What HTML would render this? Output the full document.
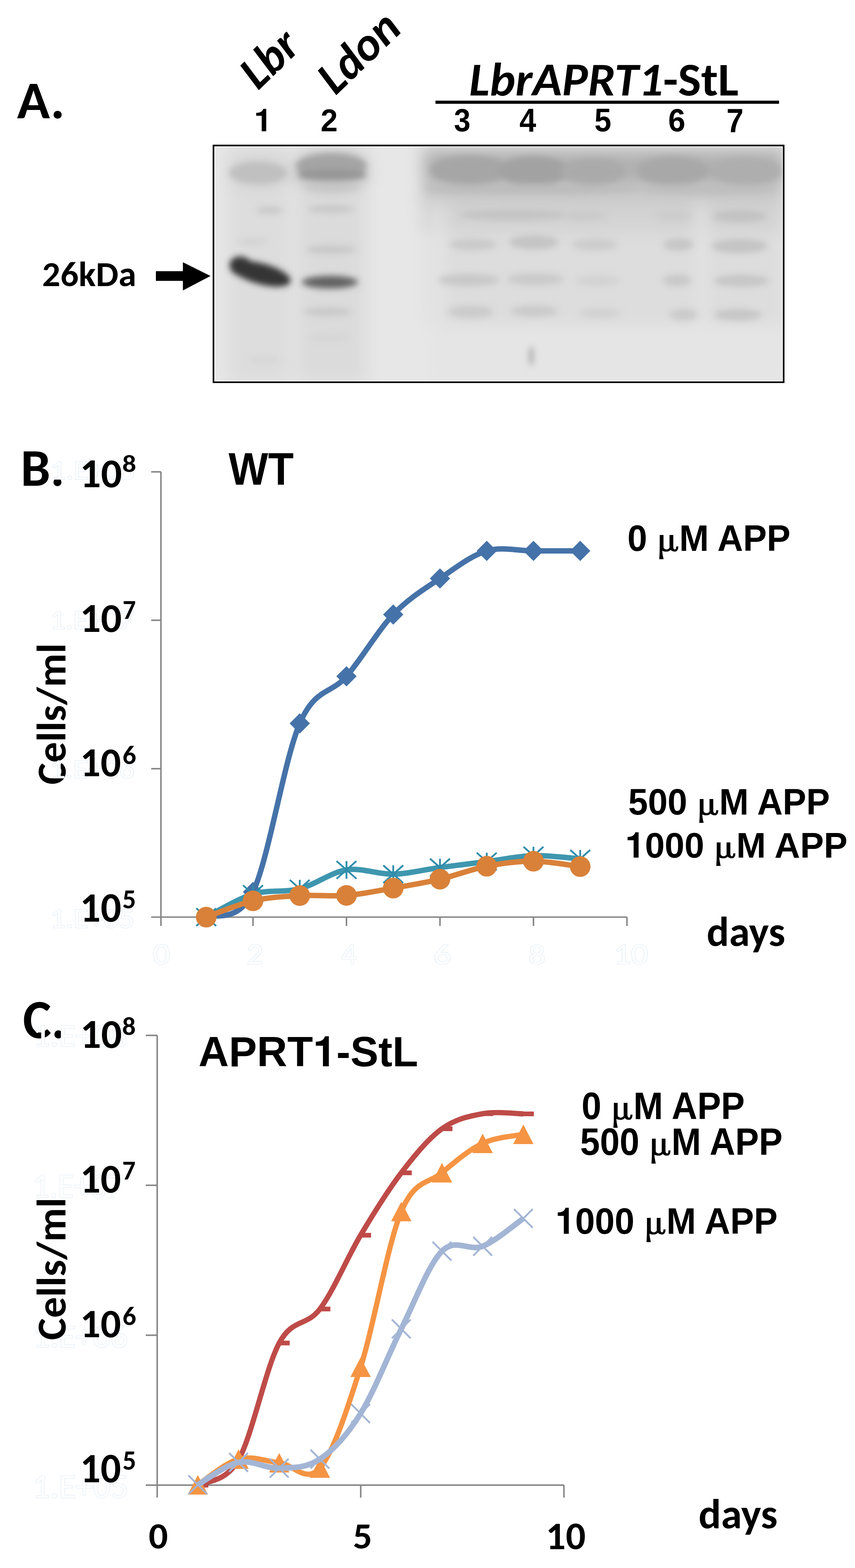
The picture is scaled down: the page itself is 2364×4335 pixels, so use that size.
<!DOCTYPE html>
<html><head><meta charset="utf-8"><title>Figure</title>
<style>html,body{margin:0;padding:0;background:#fff;}svg{display:block;}</style>
</head><body>
<svg width="2364" height="4335" viewBox="0 0 2364 4335">
<defs><filter id="bl" x="-20%" y="-20%" width="140%" height="140%"><feGaussianBlur stdDeviation="8.5"/></filter><filter id="bh" x="-20%" y="-20%" width="140%" height="140%"><feGaussianBlur stdDeviation="22"/></filter><clipPath id="bc"><rect x="594.5" y="406.5" width="1568.0" height="646.0"/></clipPath></defs>
<rect x="588" y="400" width="1581" height="659" fill="#000"/>
<rect x="592.5" y="404.5" width="1572.0" height="650.0" fill="#fff"/>
<g clip-path="url(#bc)">
<rect x="588" y="400" width="1581" height="659" fill="#e7e7e7"/>
<g filter="url(#bh)">
<rect x="628" y="400" width="177" height="660" fill="#dddddd"/>
<rect x="822" y="400" width="193" height="660" fill="#dbdbdb"/>
<rect x="1165" y="400" width="1005" height="160" fill="#c8c8c8"/>
<rect x="1175" y="425" width="995" height="80" fill="#b0b0b0"/>
<rect x="1165" y="560" width="1005" height="80" fill="#d3d3d3"/>
<rect x="1180" y="640" width="990" height="260" fill="#dddddd"/>
<rect x="1930" y="560" width="20" height="500" fill="#e6e6e6"/>
<rect x="1200" y="560" width="25" height="500" fill="#e6e6e6"/>
<rect x="1190" y="900" width="980" height="160" fill="#e5e5e5"/>
<ellipse cx="716" cy="480" rx="90" ry="45" fill="#d4d4d4"/>
<ellipse cx="916" cy="475" rx="105" ry="50" fill="#c0c0c0"/>
</g><g filter="url(#bl)">
<ellipse cx="714" cy="478" rx="80" ry="31" fill="#c0c0c0"/>
<ellipse cx="916" cy="458" rx="98" ry="34" fill="#a4a4a4"/>
<ellipse cx="918" cy="484" rx="96" ry="16" fill="#969696"/>
<ellipse cx="1300" cy="470" rx="110" ry="40" fill="#a6a6a6"/>
<ellipse cx="1475" cy="472" rx="100" ry="40" fill="#a2a2a2"/>
<ellipse cx="1640" cy="474" rx="90" ry="36" fill="#aaaaaa"/>
<ellipse cx="1860" cy="472" rx="100" ry="40" fill="#a8a8a8"/>
<ellipse cx="2060" cy="474" rx="100" ry="38" fill="#aeaeae"/>
<ellipse cx="918" cy="516" rx="75" ry="12" fill="#c6c6c6"/>
<ellipse cx="1470" cy="522" rx="300" ry="14" fill="#bcbcbc"/>
<ellipse cx="1960" cy="522" rx="190" ry="14" fill="#bebebe"/>
<ellipse cx="745" cy="581" rx="38" ry="10" fill="#c8c8c8"/>
<ellipse cx="915" cy="578" rx="65" ry="10" fill="#c6c6c6"/>
<ellipse cx="1420" cy="594" rx="150" ry="16" fill="#c4c4c4"/>
<ellipse cx="1615" cy="596" rx="60" ry="15" fill="#cacaca"/>
<ellipse cx="1860" cy="596" rx="50" ry="15" fill="#cccccc"/>
<ellipse cx="2045" cy="598" rx="75" ry="17" fill="#c2c2c2"/>
<ellipse cx="915" cy="690" rx="70" ry="12" fill="#c8c8c8"/>
<ellipse cx="700" cy="668" rx="40" ry="8" fill="#d0d0d0"/>
<ellipse cx="1308" cy="676" rx="65" ry="17" fill="#cacaca"/>
<ellipse cx="1476" cy="670" rx="68" ry="20" fill="#c4c4c4"/>
<ellipse cx="1645" cy="676" rx="62" ry="17" fill="#cccccc"/>
<ellipse cx="1876" cy="676" rx="42" ry="17" fill="#c6c6c6"/>
<ellipse cx="2045" cy="680" rx="78" ry="20" fill="#c4c4c4"/>
<ellipse cx="1296" cy="774" rx="85" ry="17" fill="#c8c8c8"/>
<ellipse cx="1480" cy="772" rx="78" ry="17" fill="#cacaca"/>
<ellipse cx="1652" cy="776" rx="62" ry="15" fill="#d2d2d2"/>
<ellipse cx="1872" cy="775" rx="40" ry="16" fill="#c8c8c8"/>
<ellipse cx="2050" cy="776" rx="76" ry="17" fill="#c6c6c6"/>
<ellipse cx="905" cy="862" rx="68" ry="10" fill="#c6c6c6"/>
<ellipse cx="1302" cy="862" rx="62" ry="17" fill="#cacaca"/>
<ellipse cx="1477" cy="860" rx="66" ry="16" fill="#cacaca"/>
<ellipse cx="1660" cy="866" rx="58" ry="15" fill="#d2d2d2"/>
<ellipse cx="1890" cy="870" rx="38" ry="16" fill="#cacaca"/>
<ellipse cx="2040" cy="870" rx="66" ry="16" fill="#c6c6c6"/>
<ellipse cx="912" cy="780" rx="78" ry="18" fill="#6a6a6a"/>
<ellipse cx="912" cy="781" rx="60" ry="10" fill="#606060"/>
<ellipse cx="722" cy="757" rx="84" ry="29" fill="#363636" transform="rotate(15 722 757)"/>
<ellipse cx="668" cy="737" rx="34" ry="27" fill="#363636" transform="rotate(20 668 737)"/>
<ellipse cx="912" cy="935" rx="60" ry="8" fill="#d4d4d4"/>
<ellipse cx="730" cy="995" rx="45" ry="8" fill="#d4d4d4"/>
<ellipse cx="1469" cy="985" rx="4" ry="28" fill="#909090"/>
</g></g>
<path d="M431,749.8 H505.7 V725 L582,763 L505.7,803 V776.5 H431z" fill="#000"/>
<rect x="1204" y="278.3" width="950" height="8.6" fill="#000"/>
<text x="0" y="0" font-size="145.85" textLength="120.71" lengthAdjust="spacingAndGlyphs" transform="translate(56.89,1342.50) scale(1.0072,1)"><tspan style='font-family:"Carlito", "Liberation Sans", sans-serif;font-weight:bold;font-style:normal'>B.</tspan></text>
<text x="0" y="0" font-size="151.08" textLength="120.32" lengthAdjust="spacingAndGlyphs" transform="translate(63.33,2870.20) scale(0.9818,1)"><tspan style='font-family:"Carlito", "Liberation Sans", sans-serif;font-weight:bold;font-style:normal'>C.</tspan></text>
<text x="0" y="0" font-size="113.86" textLength="388.47" lengthAdjust="spacingAndGlyphs" transform="translate(181.00,2169.29) rotate(-90) scale(1.0062,1)"><tspan style='font-family:"Carlito", "Liberation Sans", sans-serif;font-weight:bold;font-style:normal'>Cells</tspan><tspan style='font-family:"Carlito", "Liberation Sans", sans-serif;font-weight:bold;font-style:normal'>/</tspan><tspan style='font-family:"Carlito", "Liberation Sans", sans-serif;font-weight:bold;font-style:normal'>ml</tspan></text>
<text x="0" y="0" font-size="74.49" textLength="205.55" lengthAdjust="spacingAndGlyphs" transform="translate(139.20,1325.40) scale(1.1336,1)" fill="#fff" stroke="#dce8f4" stroke-width="2.2" paint-order="stroke"><tspan style='font-family:"Carlito", "Liberation Sans", sans-serif;font-weight:normal;font-style:normal'>1.E+08</tspan></text>
<text x="0" y="0" font-size="76.92" textLength="212.26" lengthAdjust="spacingAndGlyphs" transform="translate(138.43,1739.00) scale(1.0932,1)" fill="#fff" stroke="#dce8f4" stroke-width="2.2" paint-order="stroke"><tspan style='font-family:"Carlito", "Liberation Sans", sans-serif;font-weight:normal;font-style:normal'>1.E+07</tspan></text>
<text x="0" y="0" font-size="73.24" textLength="202.08" lengthAdjust="spacingAndGlyphs" transform="translate(137.75,2151.40) scale(1.1609,1)" fill="#fff" stroke="#dce8f4" stroke-width="2.2" paint-order="stroke"><tspan style='font-family:"Carlito", "Liberation Sans", sans-serif;font-weight:normal;font-style:normal'>1.E+06</tspan></text>
<text x="0" y="0" font-size="78.92" textLength="217.78" lengthAdjust="spacingAndGlyphs" transform="translate(138.38,2564.80) scale(1.0729,1)" fill="#fff" stroke="#dce8f4" stroke-width="2.2" paint-order="stroke"><tspan style='font-family:"Carlito", "Liberation Sans", sans-serif;font-weight:normal;font-style:normal'>1.E+05</tspan></text>
<text x="0" y="0" font-size="87.68" textLength="241.95" lengthAdjust="spacingAndGlyphs" transform="translate(90.43,2893.00) scale(1.0859,1)" fill="#fff" stroke="#dce8f4" stroke-width="2.2" paint-order="stroke"><tspan style='font-family:"Carlito", "Liberation Sans", sans-serif;font-weight:normal;font-style:normal'>1.E+08</tspan></text>
<text x="0" y="0" font-size="96.92" textLength="267.45" lengthAdjust="spacingAndGlyphs" transform="translate(90.16,3311.00) scale(0.9442,1)" fill="#fff" stroke="#dce8f4" stroke-width="2.2" paint-order="stroke"><tspan style='font-family:"Carlito", "Liberation Sans", sans-serif;font-weight:normal;font-style:normal'>1.E+07</tspan></text>
<text x="0" y="0" font-size="90.15" textLength="248.75" lengthAdjust="spacingAndGlyphs" transform="translate(89.78,3725.30) scale(1.0629,1)" fill="#fff" stroke="#dce8f4" stroke-width="2.2" paint-order="stroke"><tspan style='font-family:"Carlito", "Liberation Sans", sans-serif;font-weight:normal;font-style:normal'>1.E+06</tspan></text>
<text x="0" y="0" font-size="94.15" textLength="259.81" lengthAdjust="spacingAndGlyphs" transform="translate(89.76,4141.00) scale(1.0198,1)" fill="#fff" stroke="#dce8f4" stroke-width="2.2" paint-order="stroke"><tspan style='font-family:"Carlito", "Liberation Sans", sans-serif;font-weight:normal;font-style:normal'>1.E+05</tspan></text>
<text x="0" y="0" font-size="81.54" textLength="41.33" lengthAdjust="spacingAndGlyphs" transform="translate(422.13,2665.00) scale(1.1719,1)" fill="#fff" stroke="#dce8f4" stroke-width="2.2" paint-order="stroke"><tspan style='font-family:"Carlito", "Liberation Sans", sans-serif;font-weight:normal;font-style:normal'>0</tspan></text>
<text x="0" y="0" font-size="81.54" textLength="41.33" lengthAdjust="spacingAndGlyphs" transform="translate(681.37,2665.00) scale(1.1367,1)" fill="#fff" stroke="#dce8f4" stroke-width="2.2" paint-order="stroke"><tspan style='font-family:"Carlito", "Liberation Sans", sans-serif;font-weight:normal;font-style:normal'>2</tspan></text>
<text x="0" y="0" font-size="81.54" textLength="41.33" lengthAdjust="spacingAndGlyphs" transform="translate(943.30,2665.00) scale(1.0438,1)" fill="#fff" stroke="#dce8f4" stroke-width="2.2" paint-order="stroke"><tspan style='font-family:"Carlito", "Liberation Sans", sans-serif;font-weight:normal;font-style:normal'>4</tspan></text>
<text x="0" y="0" font-size="77.94" textLength="39.51" lengthAdjust="spacingAndGlyphs" transform="translate(1198.00,2665.00) scale(1.2830,1)" fill="#fff" stroke="#dce8f4" stroke-width="2.2" paint-order="stroke"><tspan style='font-family:"Carlito", "Liberation Sans", sans-serif;font-weight:normal;font-style:normal'>6</tspan></text>
<text x="0" y="0" font-size="76.81" textLength="38.93" lengthAdjust="spacingAndGlyphs" transform="translate(1461.28,2665.00) scale(1.2111,1)" fill="#fff" stroke="#dce8f4" stroke-width="2.2" paint-order="stroke"><tspan style='font-family:"Carlito", "Liberation Sans", sans-serif;font-weight:normal;font-style:normal'>8</tspan></text>
<text x="0" y="0" font-size="81.54" textLength="82.66" lengthAdjust="spacingAndGlyphs" transform="translate(1696.50,2665.00) scale(1.1583,1)" fill="#fff" stroke="#dce8f4" stroke-width="2.2" paint-order="stroke"><tspan style='font-family:"Carlito", "Liberation Sans", sans-serif;font-weight:normal;font-style:normal'>10</tspan></text>
<text x="0" y="0" font-size="113.86" textLength="388.47" lengthAdjust="spacingAndGlyphs" transform="translate(181.00,3704.91) rotate(-90) scale(1.0144,1)"><tspan style='font-family:"Carlito", "Liberation Sans", sans-serif;font-weight:bold;font-style:normal'>Cells</tspan><tspan style='font-family:"Carlito", "Liberation Sans", sans-serif;font-weight:bold;font-style:normal'>/</tspan><tspan style='font-family:"Carlito", "Liberation Sans", sans-serif;font-weight:bold;font-style:normal'>ml</tspan></text>
<g stroke="#868686" stroke-width="4.2" fill="none" stroke-linecap="butt">
<path d="M445,1304.5 V2535.5"/>
<path d="M418,2535.5 H1733.6"/>
<path d="M418,1304.5 H445"/>
<path d="M418,1714.8 H445"/>
<path d="M418,2125.2 H445"/>
<path d="M445.0,2535.5 V2560"/>
<path d="M699.5,2535.5 V2560"/>
<path d="M958.0,2535.5 V2560"/>
<path d="M1216.5,2535.5 V2560"/>
<path d="M1475.0,2535.5 V2560"/>
<path d="M1733.5,2535.5 V2560"/>
</g>
<path d="M570.2,2535.5 C591.8,2523.9 656.4,2555.2 699.5,2466.0 C742.6,2376.8 785.7,2099.4 828.8,2000.0 C871.8,1900.6 914.9,1920.0 958.0,1869.8 C1001.1,1819.6 1044.2,1744.0 1087.2,1698.9 C1130.3,1653.8 1173.4,1628.6 1216.5,1599.3 C1259.6,1570.0 1302.7,1535.8 1345.8,1523.1 C1388.8,1510.4 1431.9,1523.1 1475.0,1523.1 C1518.1,1523.1 1582.7,1523.1 1604.2,1523.1" fill="none" stroke="#4572a8" stroke-width="15" stroke-linejoin="round"/>
<path d="M570.2,2507.5 l28,28 l-28,28 l-28,-28z" fill="#4572a8"/>
<path d="M699.5,2438.0 l28,28 l-28,28 l-28,-28z" fill="#4572a8"/>
<path d="M828.8,1972.0 l28,28 l-28,28 l-28,-28z" fill="#4572a8"/>
<path d="M958.0,1841.8 l28,28 l-28,28 l-28,-28z" fill="#4572a8"/>
<path d="M1087.2,1670.9 l28,28 l-28,28 l-28,-28z" fill="#4572a8"/>
<path d="M1216.5,1571.3 l28,28 l-28,28 l-28,-28z" fill="#4572a8"/>
<path d="M1345.8,1495.1 l28,28 l-28,28 l-28,-28z" fill="#4572a8"/>
<path d="M1475.0,1495.1 l28,28 l-28,28 l-28,-28z" fill="#4572a8"/>
<path d="M1604.2,1495.1 l28,28 l-28,28 l-28,-28z" fill="#4572a8"/>
<path d="M570.2,2535.5 C591.8,2524.9 656.4,2485.1 699.5,2472.0 C742.6,2458.9 785.7,2468.2 828.8,2457.0 C871.8,2445.8 914.9,2411.7 958.0,2405.0 C1001.1,2398.3 1044.2,2417.9 1087.2,2416.8 C1130.3,2415.7 1173.4,2404.2 1216.5,2398.4 C1259.6,2392.6 1302.7,2387.5 1345.8,2382.0 C1388.8,2376.5 1431.9,2366.9 1475.0,2365.6 C1518.1,2364.3 1582.7,2372.9 1604.2,2374.3" fill="none" stroke="#3e96ae" stroke-width="15" stroke-linejoin="round"/>
<path d="M542.8,2511.0 l55,49 M542.8,2560.0 l55,-49 M570.2,2511.0 v49" stroke="#2f8dab" stroke-width="5" fill="none"/>
<path d="M672.0,2447.5 l55,49 M672.0,2496.5 l55,-49 M699.5,2447.5 v49" stroke="#2f8dab" stroke-width="5" fill="none"/>
<path d="M801.2,2432.5 l55,49 M801.2,2481.5 l55,-49 M828.8,2432.5 v49" stroke="#2f8dab" stroke-width="5" fill="none"/>
<path d="M930.5,2380.5 l55,49 M930.5,2429.5 l55,-49 M958.0,2380.5 v49" stroke="#2f8dab" stroke-width="5" fill="none"/>
<path d="M1059.8,2392.3 l55,49 M1059.8,2441.3 l55,-49 M1087.2,2392.3 v49" stroke="#2f8dab" stroke-width="5" fill="none"/>
<path d="M1189.0,2373.9 l55,49 M1189.0,2422.9 l55,-49 M1216.5,2373.9 v49" stroke="#2f8dab" stroke-width="5" fill="none"/>
<path d="M1318.2,2357.5 l55,49 M1318.2,2406.5 l55,-49 M1345.8,2357.5 v49" stroke="#2f8dab" stroke-width="5" fill="none"/>
<path d="M1447.5,2341.1 l55,49 M1447.5,2390.1 l55,-49 M1475.0,2341.1 v49" stroke="#2f8dab" stroke-width="5" fill="none"/>
<path d="M1576.8,2349.8 l55,49 M1576.8,2398.8 l55,-49 M1604.2,2349.8 v49" stroke="#2f8dab" stroke-width="5" fill="none"/>
<path d="M570.2,2535.6 C591.8,2528.1 656.4,2500.4 699.5,2490.5 C742.6,2480.6 785.7,2478.5 828.8,2476.0 C871.8,2473.5 914.9,2478.9 958.0,2475.5 C1001.1,2472.1 1044.2,2462.8 1087.2,2455.3 C1130.3,2447.8 1173.4,2440.8 1216.5,2430.7 C1259.6,2420.6 1302.7,2403.1 1345.8,2394.8 C1388.8,2386.5 1431.9,2380.8 1475.0,2381.0 C1518.1,2381.2 1582.7,2393.3 1604.2,2395.8" fill="none" stroke="#d98139" stroke-width="15" stroke-linejoin="round"/>
<circle cx="570.2" cy="2535.6" r="28.5" fill="#d98139"/>
<circle cx="699.5" cy="2490.5" r="28.5" fill="#d98139"/>
<circle cx="828.8" cy="2476.0" r="28.5" fill="#d98139"/>
<circle cx="958.0" cy="2475.5" r="28.5" fill="#d98139"/>
<circle cx="1087.2" cy="2455.3" r="28.5" fill="#d98139"/>
<circle cx="1216.5" cy="2430.7" r="28.5" fill="#d98139"/>
<circle cx="1345.8" cy="2394.8" r="28.5" fill="#d98139"/>
<circle cx="1475.0" cy="2381.0" r="28.5" fill="#d98139"/>
<circle cx="1604.2" cy="2395.8" r="28.5" fill="#d98139"/>
<g stroke="#868686" stroke-width="4.2" fill="none">
<path d="M434.6,2862.5 V4105.8"/>
<path d="M403,4105.8 H1559.2"/>
<path d="M403,2862.5 H434.6"/>
<path d="M403,3276.9 H434.6"/>
<path d="M403,3691.4 H434.6"/>
<path d="M434.6,4105.8 V4140.4"/>
<path d="M997.4,4105.8 V4140.4"/>
<path d="M1559.2,4105.8 V4140.4"/>
</g>
<path d="M547.0,4106.0 C565.8,4094.3 622.0,4101.5 659.5,4036.0 C697.0,3970.5 734.5,3782.5 772.0,3713.0 C809.5,3643.5 847.0,3668.7 884.5,3619.0 C922.0,3569.3 959.5,3477.8 997.0,3415.0 C1034.5,3352.2 1072.0,3291.6 1109.5,3242.5 C1147.0,3193.4 1184.5,3147.9 1222.0,3120.7 C1259.5,3093.4 1297.0,3085.9 1334.5,3079.0 C1372.0,3072.1 1428.2,3079.4 1447.0,3079.5" fill="none" stroke="#be4b48" stroke-width="14.5" stroke-linejoin="round"/>
<rect x="545.0" y="4099.5" width="31" height="13" fill="#be4b48"/>
<rect x="657.5" y="4029.5" width="31" height="13" fill="#be4b48"/>
<rect x="770.0" y="3706.5" width="31" height="13" fill="#be4b48"/>
<rect x="882.5" y="3612.5" width="31" height="13" fill="#be4b48"/>
<rect x="995.0" y="3408.5" width="31" height="13" fill="#be4b48"/>
<rect x="1107.5" y="3236.0" width="31" height="13" fill="#be4b48"/>
<rect x="1220.0" y="3114.2" width="31" height="13" fill="#be4b48"/>
<rect x="1332.5" y="3072.5" width="31" height="13" fill="#be4b48"/>
<rect x="1445.0" y="3073.0" width="31" height="13" fill="#be4b48"/>
<path d="M547.0,4105.0 C565.8,4093.2 622.0,4044.2 659.5,4034.0 C697.0,4023.8 734.5,4039.9 772.0,4044.0 C809.5,4048.1 847.0,4102.7 884.5,4058.7 C922.0,4014.7 959.5,3898.2 997.0,3780.0 C1034.5,3661.8 1072.0,3439.0 1109.5,3349.4 C1147.0,3259.8 1184.5,3273.6 1222.0,3242.2 C1259.5,3210.8 1297.0,3178.7 1334.5,3161.0 C1372.0,3143.3 1428.2,3140.2 1447.0,3136.0" fill="none" stroke="#f59443" stroke-width="14.5" stroke-linejoin="round"/>
<path d="M547.0,4078.0 l28.2,54 h-56.4z" fill="#f59443"/>
<path d="M659.5,4007.0 l28.2,54 h-56.4z" fill="#f59443"/>
<path d="M772.0,4017.0 l28.2,54 h-56.4z" fill="#f59443"/>
<path d="M884.5,4031.7 l28.2,54 h-56.4z" fill="#f59443"/>
<path d="M997.0,3753.0 l28.2,54 h-56.4z" fill="#f59443"/>
<path d="M1109.5,3322.4 l28.2,54 h-56.4z" fill="#f59443"/>
<path d="M1222.0,3215.2 l28.2,54 h-56.4z" fill="#f59443"/>
<path d="M1334.5,3134.0 l28.2,54 h-56.4z" fill="#f59443"/>
<path d="M1447.0,3109.0 l28.2,54 h-56.4z" fill="#f59443"/>
<path d="M547.0,4105.0 C565.8,4094.7 622.0,4050.7 659.5,4043.0 C697.0,4035.3 734.5,4060.5 772.0,4059.0 C809.5,4057.5 847.0,4059.2 884.5,4034.0 C922.0,4008.8 959.5,3968.0 997.0,3908.0 C1034.5,3848.0 1072.0,3748.8 1109.5,3674.0 C1147.0,3599.2 1184.5,3497.1 1222.0,3459.0 C1259.5,3420.9 1297.0,3460.6 1334.5,3445.5 C1372.0,3430.4 1428.2,3381.4 1447.0,3368.6" fill="none" stroke="#a3b5d5" stroke-width="15.5" stroke-linejoin="round"/>
<path d="M521.0,4079.0 l52,52 M521.0,4131.0 l52,-52" stroke="#a3b5d5" stroke-width="5" fill="none"/>
<path d="M633.5,4017.0 l52,52 M633.5,4069.0 l52,-52" stroke="#a3b5d5" stroke-width="5" fill="none"/>
<path d="M746.0,4033.0 l52,52 M746.0,4085.0 l52,-52" stroke="#a3b5d5" stroke-width="5" fill="none"/>
<path d="M858.5,4008.0 l52,52 M858.5,4060.0 l52,-52" stroke="#a3b5d5" stroke-width="5" fill="none"/>
<path d="M971.0,3882.0 l52,52 M971.0,3934.0 l52,-52" stroke="#a3b5d5" stroke-width="5" fill="none"/>
<path d="M1083.5,3648.0 l52,52 M1083.5,3700.0 l52,-52" stroke="#a3b5d5" stroke-width="5" fill="none"/>
<path d="M1196.0,3433.0 l52,52 M1196.0,3485.0 l52,-52" stroke="#a3b5d5" stroke-width="5" fill="none"/>
<path d="M1308.5,3419.5 l52,52 M1308.5,3471.5 l52,-52" stroke="#a3b5d5" stroke-width="5" fill="none"/>
<path d="M1421.0,3342.6 l52,52 M1421.0,3394.6 l52,-52" stroke="#a3b5d5" stroke-width="5" fill="none"/>
<text x="0" y="0" font-size="146.77" textLength="129.23" lengthAdjust="spacingAndGlyphs" transform="translate(47.00,326.60) scale(1.0237,1)"><tspan style='font-family:"Carlito", "Liberation Sans", sans-serif;font-weight:bold;font-style:normal'>A.</tspan></text>
<text x="0" y="0" font-size="86.76" textLength="48.25" lengthAdjust="spacingAndGlyphs" transform="translate(702.22,363.10) scale(1.0336,1)"><tspan style='font-family:"TeX Gyre Heros", "Liberation Sans", sans-serif;font-weight:bold;font-style:normal'>1</tspan></text>
<text x="0" y="0" font-size="87.29" textLength="48.55" lengthAdjust="spacingAndGlyphs" transform="translate(886.45,363.10) scale(0.9726,1)"><tspan style='font-family:"Liberation Sans", sans-serif;font-weight:bold;font-style:normal'>2</tspan></text>
<text x="0" y="0" font-size="88.73" textLength="49.36" lengthAdjust="spacingAndGlyphs" transform="translate(1255.36,363.11) scale(0.9241,1)"><tspan style='font-family:"Liberation Sans", sans-serif;font-weight:bold;font-style:normal'>3</tspan></text>
<text x="0" y="0" font-size="91.30" textLength="50.79" lengthAdjust="spacingAndGlyphs" transform="translate(1436.34,364.00) scale(0.9093,1)"><tspan style='font-family:"Liberation Sans", sans-serif;font-weight:bold;font-style:normal'>4</tspan></text>
<text x="0" y="0" font-size="90.00" textLength="50.06" lengthAdjust="spacingAndGlyphs" transform="translate(1643.48,363.10) scale(0.9333,1)"><tspan style='font-family:"Liberation Sans", sans-serif;font-weight:bold;font-style:normal'>5</tspan></text>
<text x="0" y="0" font-size="88.73" textLength="49.36" lengthAdjust="spacingAndGlyphs" transform="translate(1847.58,363.11) scale(0.9626,1)"><tspan style='font-family:"Liberation Sans", sans-serif;font-weight:bold;font-style:normal'>6</tspan></text>
<text x="0" y="0" font-size="92.65" textLength="51.53" lengthAdjust="spacingAndGlyphs" transform="translate(2008.60,364.93) scale(0.9186,1)"><tspan style='font-family:"Liberation Sans", sans-serif;font-weight:bold;font-style:normal'>7</tspan></text>
<text x="0" y="0" font-size="130.00" textLength="719.59" lengthAdjust="spacingAndGlyphs" transform="translate(1296.96,264.00) scale(1.0354,1)"><tspan style='font-family:"Carlito", "Liberation Sans", sans-serif;font-weight:bold;font-style:italic'>LbrAPRT1</tspan><tspan style='font-family:"Carlito", "Liberation Sans", sans-serif;font-weight:bold;font-style:normal'>-StL</tspan></text>
<text x="0" y="0" font-size="98.14" textLength="256.92" lengthAdjust="spacingAndGlyphs" transform="translate(116.62,790.70) scale(1.0125,1)"><tspan style='font-family:"Carlito", "Liberation Sans", sans-serif;font-weight:bold;font-style:normal'>26kDa</tspan></text>
<text x="0" y="0" font-size="126.38" textLength="196.48" lengthAdjust="spacingAndGlyphs" transform="translate(632.00,1339.70) scale(0.9169,1)"><tspan style='font-family:"Liberation Sans", sans-serif;font-weight:bold;font-style:normal'>WT</tspan></text>
<text x="0" y="0" font-size="113.85" textLength="115.41" lengthAdjust="spacingAndGlyphs" transform="translate(220.74,1346.70) scale(1.0111,1)"><tspan style='font-family:"Carlito", "Liberation Sans", sans-serif;font-weight:bold;font-style:normal'>10</tspan></text>
<text x="0" y="0" font-size="65.94" textLength="33.42" lengthAdjust="spacingAndGlyphs" transform="translate(338.12,1305.40) scale(1.1525,1)"><tspan style='font-family:"Carlito", "Liberation Sans", sans-serif;font-weight:bold;font-style:normal'>8</tspan></text>
<text x="0" y="0" font-size="113.85" textLength="115.41" lengthAdjust="spacingAndGlyphs" transform="translate(221.01,1747.00) scale(1.0025,1)"><tspan style='font-family:"Carlito", "Liberation Sans", sans-serif;font-weight:bold;font-style:normal'>10</tspan></text>
<text x="0" y="0" font-size="75.38" textLength="38.21" lengthAdjust="spacingAndGlyphs" transform="translate(339.12,1710.60) scale(0.9557,1)"><tspan style='font-family:"Carlito", "Liberation Sans", sans-serif;font-weight:bold;font-style:normal'>7</tspan></text>
<text x="0" y="0" font-size="113.38" textLength="114.94" lengthAdjust="spacingAndGlyphs" transform="translate(221.59,2145.70) scale(0.9836,1)"><tspan style='font-family:"Carlito", "Liberation Sans", sans-serif;font-weight:bold;font-style:normal'>10</tspan></text>
<text x="0" y="0" font-size="73.24" textLength="37.12" lengthAdjust="spacingAndGlyphs" transform="translate(338.76,2111.50) scale(1.0195,1)"><tspan style='font-family:"Carlito", "Liberation Sans", sans-serif;font-weight:bold;font-style:normal'>6</tspan></text>
<text x="0" y="0" font-size="115.69" textLength="117.28" lengthAdjust="spacingAndGlyphs" transform="translate(221.11,2547.70) scale(0.9743,1)"><tspan style='font-family:"Carlito", "Liberation Sans", sans-serif;font-weight:bold;font-style:normal'>10</tspan></text>
<text x="0" y="0" font-size="74.92" textLength="37.98" lengthAdjust="spacingAndGlyphs" transform="translate(338.26,2511.00) scale(0.9964,1)"><tspan style='font-family:"Carlito", "Liberation Sans", sans-serif;font-weight:bold;font-style:normal'>5</tspan></text>
<text x="0" y="0" font-size="101.41" textLength="465.15" lengthAdjust="spacingAndGlyphs" transform="translate(1734.87,1522.99) scale(0.9691,1)"><tspan style='font-family:"Liberation Sans", sans-serif;font-weight:bold;font-style:normal'>0 </tspan><tspan style='font-family:"TeX Gyre Schola", "Liberation Serif", serif;font-weight:normal;font-style:normal' stroke='#000' stroke-width='2.2' font-size='0.9em'>μ</tspan><tspan style='font-family:"Liberation Sans", sans-serif;font-weight:bold;font-style:normal'>M APP</tspan></text>
<text x="0" y="0" font-size="101.13" textLength="576.34" lengthAdjust="spacingAndGlyphs" transform="translate(1737.07,2252.39) scale(0.9673,1)"><tspan style='font-family:"Liberation Sans", sans-serif;font-weight:bold;font-style:normal'>500 </tspan><tspan style='font-family:"TeX Gyre Schola", "Liberation Serif", serif;font-weight:normal;font-style:normal' stroke='#000' stroke-width='2.2' font-size='0.9em'>μ</tspan><tspan style='font-family:"Liberation Sans", sans-serif;font-weight:bold;font-style:normal'>M APP</tspan></text>
<text x="0" y="0" font-size="98.47" textLength="615.97" lengthAdjust="spacingAndGlyphs" transform="translate(1728.52,2370.62) scale(0.9983,1)"><tspan style='font-family:"TeX Gyre Heros", "Liberation Sans", sans-serif;font-weight:bold;font-style:normal'>1</tspan><tspan style='font-family:"Liberation Sans", sans-serif;font-weight:bold;font-style:normal'>000 </tspan><tspan style='font-family:"TeX Gyre Schola", "Liberation Serif", serif;font-weight:normal;font-style:normal' stroke='#000' stroke-width='2.2' font-size='0.9em'>μ</tspan><tspan style='font-family:"Liberation Sans", sans-serif;font-weight:bold;font-style:normal'>M APP</tspan></text>
<text x="0" y="0" font-size="114.53" textLength="215.15" lengthAdjust="spacingAndGlyphs" transform="translate(1953.73,2614.67) scale(1.0113,1)"><tspan style='font-family:"Carlito", "Liberation Sans", sans-serif;font-weight:bold;font-style:normal'>days</tspan></text>
<text x="0" y="0" font-size="117.64" textLength="614.33" lengthAdjust="spacingAndGlyphs" transform="translate(548.71,2947.52) scale(0.9886,1)"><tspan style='font-family:"Liberation Sans", sans-serif;font-weight:bold;font-style:normal'>APRT</tspan><tspan style='font-family:"TeX Gyre Heros", "Liberation Sans", sans-serif;font-weight:bold;font-style:normal'>1</tspan><tspan style='font-family:"Liberation Sans", sans-serif;font-weight:bold;font-style:normal'>-StL</tspan></text>
<text x="0" y="0" font-size="112.77" textLength="114.32" lengthAdjust="spacingAndGlyphs" transform="translate(222.05,2896.60) scale(1.0073,1)"><tspan style='font-family:"Carlito", "Liberation Sans", sans-serif;font-weight:bold;font-style:normal'>10</tspan></text>
<text x="0" y="0" font-size="71.45" textLength="36.22" lengthAdjust="spacingAndGlyphs" transform="translate(337.78,2860.70) scale(1.0357,1)"><tspan style='font-family:"Carlito", "Liberation Sans", sans-serif;font-weight:bold;font-style:normal'>8</tspan></text>
<text x="0" y="0" font-size="113.85" textLength="115.41" lengthAdjust="spacingAndGlyphs" transform="translate(221.59,3296.70) scale(0.9796,1)"><tspan style='font-family:"Carlito", "Liberation Sans", sans-serif;font-weight:bold;font-style:normal'>10</tspan></text>
<text x="0" y="0" font-size="75.69" textLength="38.37" lengthAdjust="spacingAndGlyphs" transform="translate(338.09,3260.50) scale(0.9608,1)"><tspan style='font-family:"Carlito", "Liberation Sans", sans-serif;font-weight:bold;font-style:normal'>7</tspan></text>
<text x="0" y="0" font-size="111.69" textLength="113.23" lengthAdjust="spacingAndGlyphs" transform="translate(221.59,3696.90) scale(0.9985,1)"><tspan style='font-family:"Carlito", "Liberation Sans", sans-serif;font-weight:bold;font-style:normal'>10</tspan></text>
<text x="0" y="0" font-size="73.09" textLength="37.05" lengthAdjust="spacingAndGlyphs" transform="translate(338.76,3662.70) scale(1.0216,1)"><tspan style='font-family:"Carlito", "Liberation Sans", sans-serif;font-weight:bold;font-style:normal'>6</tspan></text>
<text x="0" y="0" font-size="116.15" textLength="117.75" lengthAdjust="spacingAndGlyphs" transform="translate(221.59,4098.30) scale(0.9601,1)"><tspan style='font-family:"Carlito", "Liberation Sans", sans-serif;font-weight:bold;font-style:normal'>10</tspan></text>
<text x="0" y="0" font-size="76.62" textLength="38.83" lengthAdjust="spacingAndGlyphs" transform="translate(338.77,4062.70) scale(0.9713,1)"><tspan style='font-family:"Carlito", "Liberation Sans", sans-serif;font-weight:bold;font-style:normal'>5</tspan></text>
<text x="0" y="0" font-size="105.21" textLength="482.59" lengthAdjust="spacingAndGlyphs" transform="translate(1608.07,3093.65) scale(0.9349,1)"><tspan style='font-family:"Liberation Sans", sans-serif;font-weight:bold;font-style:normal'>0 </tspan><tspan style='font-family:"TeX Gyre Schola", "Liberation Serif", serif;font-weight:normal;font-style:normal' stroke='#000' stroke-width='2.2' font-size='0.9em'>μ</tspan><tspan style='font-family:"Liberation Sans", sans-serif;font-weight:bold;font-style:normal'>M APP</tspan></text>
<text x="0" y="0" font-size="105.21" textLength="599.62" lengthAdjust="spacingAndGlyphs" transform="translate(1604.05,3193.25) scale(0.9336,1)"><tspan style='font-family:"Liberation Sans", sans-serif;font-weight:bold;font-style:normal'>500 </tspan><tspan style='font-family:"TeX Gyre Schola", "Liberation Serif", serif;font-weight:normal;font-style:normal' stroke='#000' stroke-width='2.2' font-size='0.9em'>μ</tspan><tspan style='font-family:"Liberation Sans", sans-serif;font-weight:bold;font-style:normal'>M APP</tspan></text>
<text x="0" y="0" font-size="101.53" textLength="635.09" lengthAdjust="spacingAndGlyphs" transform="translate(1535.52,3410.98) scale(0.9678,1)"><tspan style='font-family:"TeX Gyre Heros", "Liberation Sans", sans-serif;font-weight:bold;font-style:normal'>1</tspan><tspan style='font-family:"Liberation Sans", sans-serif;font-weight:bold;font-style:normal'>000 </tspan><tspan style='font-family:"TeX Gyre Schola", "Liberation Serif", serif;font-weight:normal;font-style:normal' stroke='#000' stroke-width='2.2' font-size='0.9em'>μ</tspan><tspan style='font-family:"Liberation Sans", sans-serif;font-weight:bold;font-style:normal'>M APP</tspan></text>
<text x="0" y="0" font-size="100.62" textLength="51.00" lengthAdjust="spacingAndGlyphs" transform="translate(410.89,4281.40) scale(1.0467,1)"><tspan style='font-family:"Carlito", "Liberation Sans", sans-serif;font-weight:bold;font-style:normal'>0</tspan></text>
<text x="0" y="0" font-size="100.62" textLength="51.00" lengthAdjust="spacingAndGlyphs" transform="translate(975.84,4281.40) scale(1.0470,1)"><tspan style='font-family:"Carlito", "Liberation Sans", sans-serif;font-weight:bold;font-style:normal'>5</tspan></text>
<text x="0" y="0" font-size="106.77" textLength="108.24" lengthAdjust="spacingAndGlyphs" transform="translate(1509.10,4282.80) scale(1.0170,1)"><tspan style='font-family:"Carlito", "Liberation Sans", sans-serif;font-weight:bold;font-style:normal'>10</tspan></text>
<text x="0" y="0" font-size="116.28" textLength="218.42" lengthAdjust="spacingAndGlyphs" transform="translate(1931.31,4225.40) scale(1.0013,1)"><tspan style='font-family:"Carlito", "Liberation Sans", sans-serif;font-weight:bold;font-style:normal'>days</tspan></text>
<text x="0" y="0" font-size="130.38" textLength="169.86" lengthAdjust="spacingAndGlyphs" transform="translate(712.97,251.64) rotate(-44)"><tspan style='font-family:"Carlito", "Liberation Sans", sans-serif;font-weight:bold;font-style:italic'>Lbr</tspan></text>
<text x="0" y="0" font-size="130.21" textLength="261.12" lengthAdjust="spacingAndGlyphs" transform="translate(927.30,265.87) rotate(-44)"><tspan style='font-family:"Carlito", "Liberation Sans", sans-serif;font-weight:bold;font-style:italic'>Ldon</tspan></text>
</svg>
</body></html>
